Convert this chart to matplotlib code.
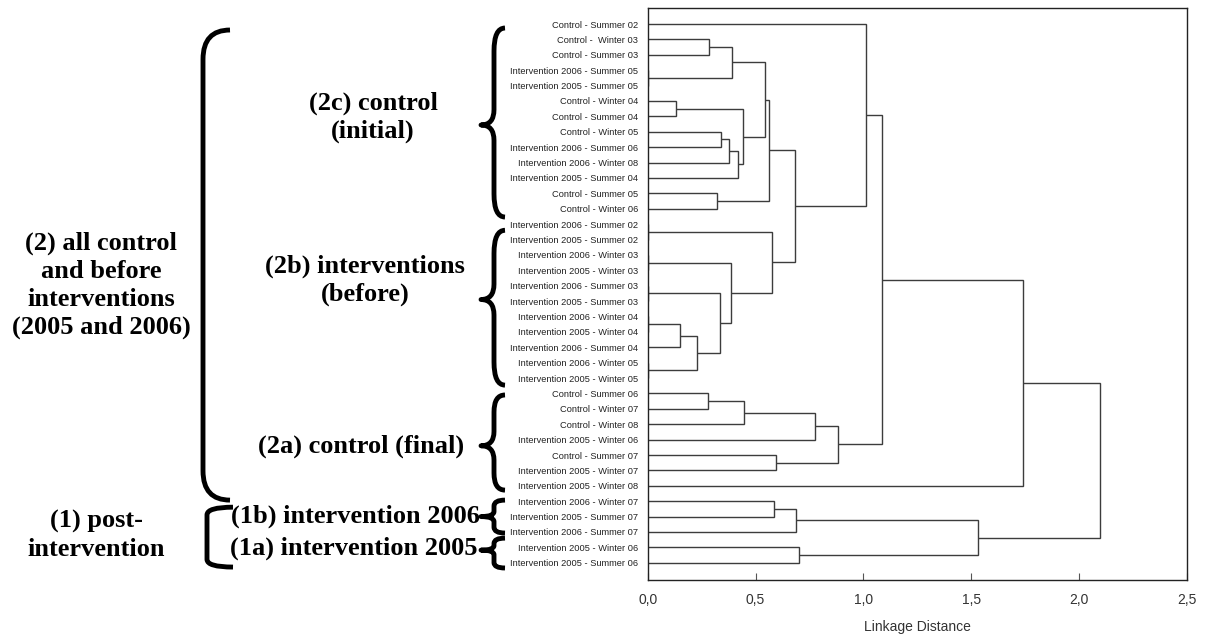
import matplotlib
matplotlib.use('Agg')
import matplotlib.pyplot as plt
from matplotlib.path import Path
from matplotlib.patches import PathPatch
from matplotlib import transforms

plt.rcParams['font.family'] = ['Liberation Sans', 'DejaVu Sans']

# ---------------- data ----------------
leaf_labels = [
    'Control - Summer 02', 'Control -  Winter 03', 'Control - Summer 03',
    'Intervention 2006 - Summer 05', 'Intervention 2005 - Summer 05',
    'Control - Winter 04', 'Control - Summer 04', 'Control - Winter 05',
    'Intervention 2006 - Summer 06', 'Intervention 2006 - Winter 08',
    'Intervention 2005 - Summer 04', 'Control - Summer 05', 'Control - Winter 06',
    'Intervention 2006 - Summer 02', 'Intervention 2005 - Summer 02',
    'Intervention 2006 - Winter 03', 'Intervention 2005 - Winter 03',
    'Intervention 2006 - Summer 03', 'Intervention 2005 - Summer 03',
    'Intervention 2006 - Winter 04', 'Intervention 2005 - Winter 04',
    'Intervention 2006 - Summer 04', 'Intervention 2006 - Winter 05',
    'Intervention 2005 - Winter 05', 'Control - Summer 06', 'Control - Winter 07',
    'Control - Winter 08', 'Intervention 2005 - Winter 06', 'Control - Summer 07',
    'Intervention 2005 - Winter 07', 'Intervention 2005 - Winter 08',
    'Intervention 2006 - Winter 07', 'Intervention 2005 - Summer 07',
    'Intervention 2006 - Summer 07', 'Intervention 2005 - Winter 06',
    'Intervention 2005 - Summer 06',
]

# linkage: cluster ids 0..35 are leaves, 36+ are merges in this order
merge_left = [1, 3, 36, 5, 7, 40, 41, 39, 38, 11, 44, 13, 15, 17, 19, 50, 22, 51,
              49, 48, 47, 46, 0, 24, 59, 60, 28, 61, 58, 64, 31, 66, 34, 67, 65]
merge_right = [2, 4, 37, 6, 8, 9, 10, 42, 43, 12, 45, 14, 16, 18, 20, 21, 23, 52,
               53, 54, 55, 56, 57, 25, 26, 27, 29, 62, 63, 30, 32, 33, 35, 68, 69]
merge_height = [0.285, 0.0, 0.392, 0.131, 0.338, 0.377, 0.417, 0.441, 0.543, 0.322,
                0.563, 0.0, 0.0, 0.0, 0.0, 0.150, 0.0, 0.230, 0.335, 0.384, 0.577,
                0.682, 1.014, 0.278, 0.446, 0.776, 0.596, 0.883, 1.086, 1.742,
                0.585, 0.687, 0.702, 1.529, 2.097]

x_ticks = [0.0, 0.5, 1.0, 1.5, 2.0, 2.5]
x_tick_labels = ['0,0', '0,5', '1,0', '1,5', '2,0', '2,5']
x_label = 'Linkage Distance'

# group annotations (rows in leaf units)
group_names = ['(2c) control\n(initial)', '(2b) interventions\n(before)',
               '(2a) control (final)', '(1b) intervention 2006',
               '(1a) intervention 2005']
group_top = [0.26, 13.4, 24.1, 30.93, 33.4]
group_bottom = [12.54, 23.46, 30.28, 33.07, 35.34]
group_tip = [6.56, 17.9, 27.4, 32.0, 34.18]
group_text_row = [6.04, 16.63, 27.42, 31.97, 34.05]
group_text_x = [373, 365, 361, 355, 354]

super_names = ['(2) all control\nand before\ninterventions\n(2005 and 2006)',
               '(1) post-\nintervention']
super_top = [0.39, 31.39]
super_bottom = [30.93, 35.28]
super_text_row = [17.0, 33.2]
super_text_x = [101, 96]

# ---------------- figure ----------------
W, H = 1205, 639
fig = plt.figure(figsize=(W / 100, H / 100), dpi=100)
ax_l, ax_r, ax_t, ax_b = 647.7, 1187.0, 8.0, 580.0
ax = fig.add_axes([ax_l / W, 1 - ax_b / H, (ax_r - ax_l) / W, (ax_b - ax_t) / H])

n = len(leaf_labels)
pos = [float(i) for i in range(n)]
hgt = [0.0] * n
line_color = '#3c3c3c'
for l, r, h in zip(merge_left, merge_right, merge_height):
    yl, yr = pos[l], pos[r]
    ax.plot([hgt[l], h, h, hgt[r]], [yl, yl, yr, yr], color=line_color,
            lw=1.0, solid_joinstyle='miter', solid_capstyle='butt')
    pos.append((yl + yr) / 2.0)
    hgt.append(h)

ax.set_xlim(0, 2.5)
ax.set_ylim(n - 1 + 1.12, -1.04)
ax.set_xticks(x_ticks)
ax.set_xticklabels(x_tick_labels, fontsize=10, color='#333333')
ax.set_xlabel(x_label, fontsize=10, color='#333333', labelpad=10)
ax.tick_params(axis='x', direction='in', length=5, width=0.8, pad=9,
               color='#555555')
ax.set_yticks(range(n))
ax.set_yticklabels(leaf_labels, fontsize=6.7, color='#222222')
ax.tick_params(axis='y', length=0, pad=7)
for s in ax.spines.values():
    s.set_linewidth(1.0)
    s.set_color('#222222')

# ---------------- braces & annotations ----------------
trans = transforms.blended_transform_factory(transforms.IdentityTransform(),
                                             ax.transData)
serif = ['Liberation Serif', 'DejaVu Serif']
BR_LW = 3.5
LS = 1.27


def brace(x_spine, x_arm, y_top, y_bot, r, x_tip=None, y_tip=None, r2=None):
    verts = [(x_arm, y_top), (x_spine, y_top), (x_spine, y_top + r)]
    codes = [Path.MOVETO, Path.CURVE3, Path.CURVE3]
    if x_tip is not None:
        verts += [(x_spine, y_tip - r2), (x_spine, y_tip), (x_tip, y_tip),
                  (x_spine, y_tip), (x_spine, y_tip + r2)]
        codes += [Path.LINETO, Path.CURVE3, Path.CURVE3, Path.CURVE3, Path.CURVE3]
    verts += [(x_spine, y_bot - r), (x_spine, y_bot), (x_arm, y_bot)]
    codes += [Path.LINETO, Path.CURVE3, Path.CURVE3]
    p = PathPatch(Path(verts, codes), transform=trans, fill=False,
                  edgecolor='black', lw=BR_LW, capstyle='butt',
                  joinstyle='round', clip_on=False)
    fig.add_artist(p)


for i in range(len(group_names)):
    span = group_bottom[i] - group_top[i]
    r = min(1.5, span * 0.18)
    r2 = min(1.0, span * 0.15)
    brace(494, 505, group_top[i], group_bottom[i], r, 481, group_tip[i], r2)
    fig.text(group_text_x[i], group_text_row[i], group_names[i], transform=trans,
             ha='center', va='center', fontsize=19, fontweight='bold',
             family=serif, linespacing=LS)

brace(203, 230, super_top[0], super_bottom[0], 1.9)
brace(207, 233, super_top[1], super_bottom[1], 0.5)
for i in range(len(super_names)):
    fig.text(super_text_x[i], super_text_row[i], super_names[i], transform=trans,
             ha='center', va='center', fontsize=19, fontweight='bold',
             family=serif, linespacing=LS)

fig.savefig('out.png', dpi=100)
